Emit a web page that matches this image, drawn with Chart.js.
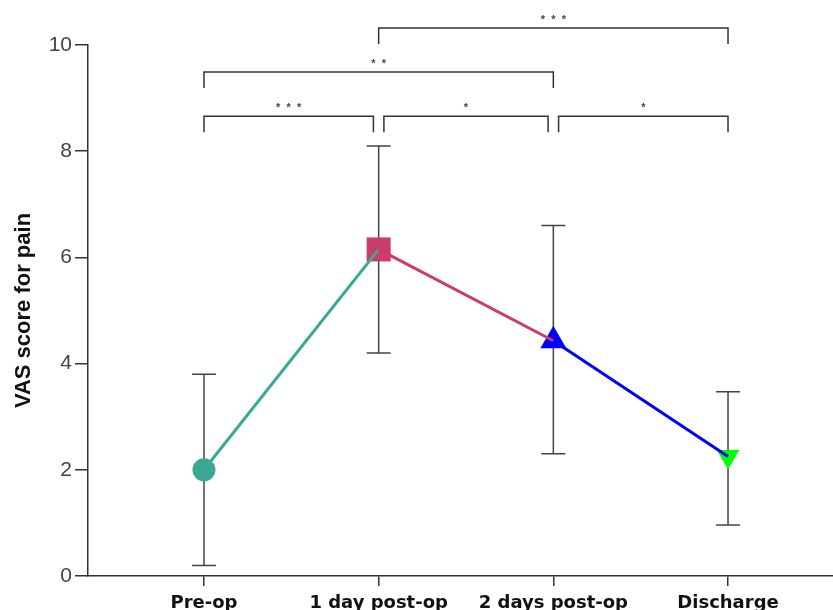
<!DOCTYPE html>
<html>
<head>
<meta charset="utf-8">
<script src="https://cdn.jsdelivr.net/npm/chart.js@4.4.0/dist/chart.umd.min.js"></script>
<style>
  html, body { margin: 0; padding: 0; background: #fff; overflow: hidden; }
</style>
</head>
<body>
<canvas id="vasChart" width="850" height="610"></canvas>
<script>
// VAS pain score over time, mean with error bars

const timepoints = ['Pre-op', '1 day post-op', '2 days post-op', 'Discharge'];
const vasMean = [2.0, 6.15, 4.43, 2.25];
const vasLow  = [0.2, 4.2, 2.3, 0.96];
const vasHigh = [3.8, 8.1, 6.6, 3.47];
const yTicks  = [0, 2, 4, 6, 8, 10];

// significance brackets (x in time-point units, level in VAS units)
const sigFrom  = [2, 1, 1, 2.03, 3.03];
const sigTo    = [4, 3, 1.97, 2.97, 4];
const sigLevel = [10.32, 9.49, 8.66, 8.66, 8.66];
const sigStars = ['***', '**', '***', '*', '*'];

const markerColors = ['#3aa895', '#cc3c68', '#0000ff', '#00ff00'];
const segColors    = ['#3aa895', '#cc3c68', '#0000ff'];
const ink = '#333';

const points = vasMean.map((v, i) => ({ x: i + 1, y: v }));

// ── error bars under the markers
const errorBars = {
  id: 'errorBars',
  beforeDatasetsDraw(chart) {
    const { ctx, scales: { x, y } } = chart;
    ctx.save();
    ctx.strokeStyle = '#444';
    ctx.lineWidth = 1.5;
    vasMean.forEach((m, i) => {
      const px = x.getPixelForValue(i + 1);
      const lo = y.getPixelForValue(vasLow[i]);
      const hi = y.getPixelForValue(vasHigh[i]);
      ctx.beginPath();
      ctx.moveTo(px, lo); ctx.lineTo(px, hi);
      ctx.moveTo(px - 12, lo); ctx.lineTo(px + 12, lo);
      ctx.moveTo(px - 12, hi); ctx.lineTo(px + 12, hi);
      ctx.stroke();
    });
    ctx.restore();
  }
};

// ── significance brackets with stars
const brackets = {
  id: 'brackets',
  afterDraw(chart) {
    const { ctx, scales: { x, y } } = chart;
    ctx.save();
    ctx.strokeStyle = ink;
    ctx.lineWidth = 1.5;
    ctx.fillStyle = '#444';
    ctx.font = 'bold 11px "Liberation Sans", Arial, sans-serif';
    ctx.textAlign = 'center';
    ctx.textBaseline = 'alphabetic';
    sigFrom.forEach((f, i) => {
      const x0 = x.getPixelForValue(f);
      const x1 = x.getPixelForValue(sigTo[i]);
      const py = y.getPixelForValue(sigLevel[i]);
      ctx.beginPath();
      ctx.moveTo(x0, py + 16); ctx.lineTo(x0, py);
      ctx.lineTo(x1, py); ctx.lineTo(x1, py + 16);
      ctx.stroke();
      const n = sigStars[i].length;
      const cx = (x0 + x1) / 2;
      for (let k = 0; k < n; k++) {
        ctx.fillText('*', cx + (k - (n - 1) / 2) * 10.5, py - 5);
      }
    });
    ctx.restore();
  }
};

new Chart(document.getElementById('vasChart').getContext('2d'), {
  type: 'scatter',
  data: {
    datasets: [
      {
        type: 'line',
        label: 'trend',
        data: points,
        order: 0,
        borderWidth: 3,
        pointRadius: 0,
        fill: false,
        tension: 0,
        segment: { borderColor: c => segColors[c.p0DataIndex] }
      },
      {
        label: 'VAS',
        data: points,
        order: 1,
        showLine: false,
        pointStyle: ['circle', 'rect', 'triangle', 'triangle'],
        pointRotation: [0, 0, 0, 180],
        pointRadius: [11.5, 17, 15, 13],
        pointBackgroundColor: markerColors,
        pointBorderColor: markerColors,
        pointBorderWidth: 0
      }
    ]
  },
  options: {
    responsive: false,
    animation: false,
    layout: { padding: { top: 45, left: 0, right: 0, bottom: 0 } },
    plugins: { legend: { display: false }, tooltip: { enabled: false } },
    scales: {
      x: {
        type: 'linear',
        min: 0.336,
        max: 4.601,
        afterBuildTicks: s => { s.ticks = timepoints.map((_, i) => ({ value: i + 1 })); },
        afterFit: s => { s.height = 34; },
        ticks: {
          callback: v => timepoints[v - 1],
          autoSkip: false,
          maxRotation: 0,
          padding: 7,
          color: '#111',
          font: { family: 'DejaVu Sans', weight: 'bold', size: 18 }
        },
        grid: { drawOnChartArea: false, tickLength: 10, color: ink, lineWidth: 1.5 },
        border: { color: ink, width: 1.5 }
      },
      y: {
        min: 0,
        max: 10,
        afterBuildTicks: s => { s.ticks = yTicks.map(v => ({ value: v })); },
        afterFit: s => { s.width = 88; },
        ticks: {
          padding: 3,
          color: '#444',
          font: { family: 'Liberation Sans', size: 21 }
        },
        grid: { drawOnChartArea: false, tickLength: 13, color: ink, lineWidth: 1.5 },
        border: { color: ink, width: 1.5 },
        title: {
          display: true,
          text: 'VAS score for pain',
          color: '#111',
          padding: { top: 11, bottom: 0 },
          font: { family: 'Liberation Sans', weight: 'bold', size: 22 }
        }
      }
    }
  },
  plugins: [errorBars, brackets]
});
</script>
</body>
</html>
